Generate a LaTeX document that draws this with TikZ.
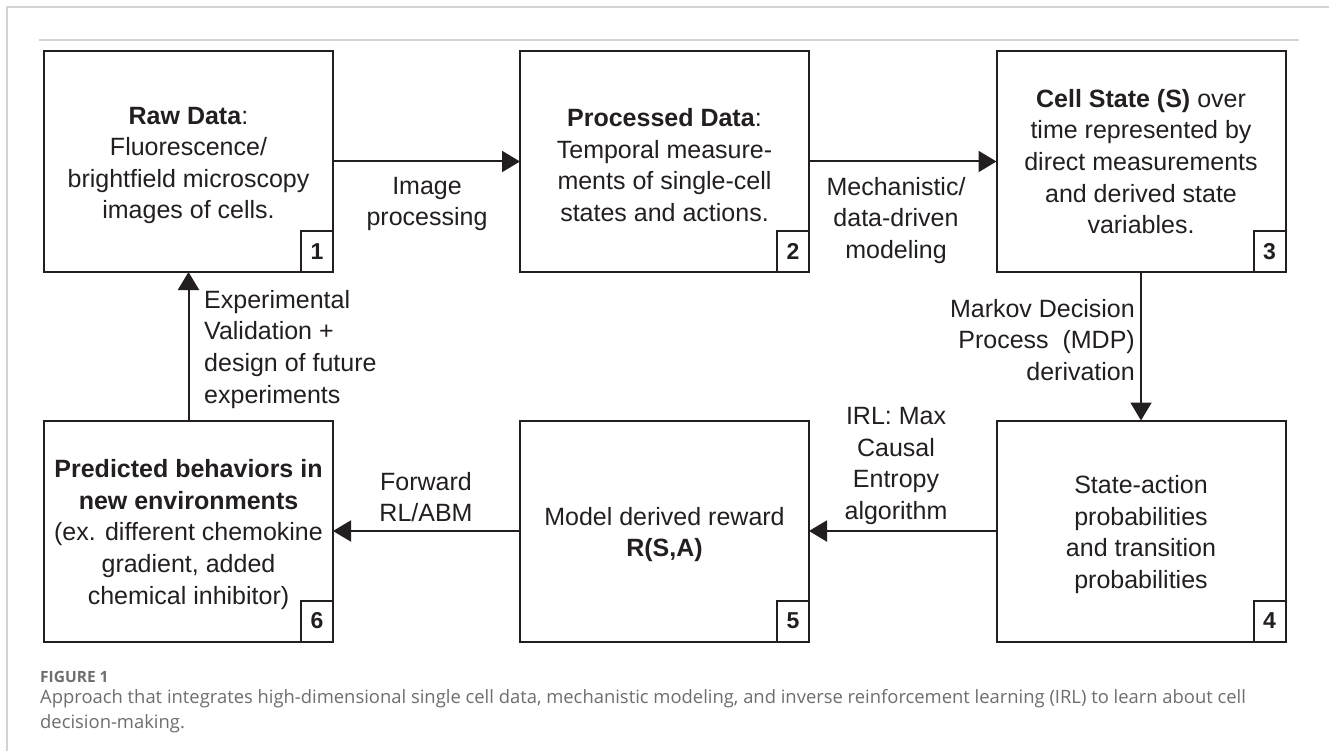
\documentclass[tikz,border=0pt]{standalone}
\usepackage{fontspec}
\setmainfont{Liberation Sans}
\newfontfamily\capfont{Open Sans}
\usetikzlibrary{arrows.meta}
\definecolor{ink}{HTML}{231F20}
\definecolor{rulegray}{HTML}{D4D4D4}
\definecolor{capgray}{HTML}{6E6E6E}
\newcommand{\topstrut}{\rule{0pt}{25pt}}
\begin{document}
\begin{tikzpicture}[x=1pt,y=-1pt,
  stage/.style={draw=ink, line width=2pt, minimum width=289pt, minimum height=221pt, inner sep=0pt, outer sep=0pt, align=center, font=\fontsize{25}{31.6}\selectfont, text=ink},
  numbox/.style={draw=ink, line width=2pt, minimum width=32pt, minimum height=41pt, inner sep=0pt, outer sep=0pt, font=\fontsize{23}{26}\selectfont\bfseries, text=ink, anchor=south east},
  lab/.style={inner sep=0pt, font=\fontsize{25}{31.6}\selectfont, text=ink},
  flow/.style={draw=ink, line width=2pt, -{Triangle[length=18pt,width=21pt]}},
  capstyle/.style={anchor=base west, inner sep=0pt, text=capgray},
]
\useasboundingbox (0,0) rectangle (1329,751);
\fill[white] (0,0) rectangle (1329,751);
% frame rules
\draw[rulegray, line width=1.5pt] (7,751) -- (7,7) -- (1329,7);
\draw[rulegray, line width=1.5pt] (39,40) -- (1299,40);

% stages
\node[stage] (b1) at (188.5,161.5) {\topstrut\textbf{Raw Data}:\\Fluorescence/\\brightfield microscopy\\images of cells.};
\node[stage] (b2) at (664.5,161.5) {\topstrut\textbf{Processed Data}:\\Temporal measure-\\ments of single-cell\\states and actions.};
\node[stage] (b3) at (1141,161.5) {\textbf{Cell State (S)} over\\time represented by\\direct measurements\\and derived state\\variables.};
\node[stage] (b4) at (1141,531) {\topstrut State-action\\probabilities\\and transition\\probabilities};
\node[stage] (b5) at (664.5,531) {\topstrut Model derived reward\\\textbf{R(S,A)}};
\node[stage] (b6) at (188.5,531) {\topstrut\textbf{Predicted behaviors in}\\\textbf{new environments}\\(ex. different chemokine\\gradient, added\\chemical inhibitor)};

% numbers
\node[numbox] (n1) at (b1.south east) {1};
\node[numbox] (n2) at (b2.south east) {2};
\node[numbox] (n3) at (b3.south east) {3};
\node[numbox] (n4) at (b4.south east) {4};
\node[numbox] (n5) at (b5.south east) {5};
\node[numbox] (n6) at (b6.south east) {6};

% connectors
\draw[flow] (b1) -- (b2);
\draw[flow] (b2) -- (b3);
\draw[flow] (b3) -- (b4);
\draw[flow] (b4) -- (b5);
\draw[flow] (b5) -- (b6);
\draw[flow] (b6) -- (b1);

% connector labels
\node[lab, align=center, anchor=north] (l12) at (427,177) {Image\\processing};
\node[lab, align=center, anchor=north] (l23) at (896,177) {Mechanistic/\\data-driven\\modeling};
\node[lab, align=right, anchor=north east] (l34) at (1135,299) {Markov Decision\\Process\ \ (MDP)\\derivation};
\node[lab, align=center, anchor=north] (l45) at (896,407) {IRL: Max\\Causal\\Entropy\\algorithm};
\node[lab, align=center, anchor=north] (l56) at (426,472) {Forward\\RL/ABM};
\node[lab, align=left, anchor=north west] (l61) at (204,290) {Experimental\\Validation +\\design of future\\experiments};

% caption
\node[capstyle, font=\capfont\fontsize{15.5}{18}\selectfont\bfseries] (fig) at (40,682) {FIGURE 1};
\node[capstyle, font=\capfont\fontsize{18.4}{25}\selectfont] (cap1) at (40,703) {Approach that integrates high-dimensional single cell data, mechanistic modeling, and inverse reinforcement learning (IRL) to learn about cell};
\node[capstyle, font=\capfont\fontsize{18.4}{25}\selectfont] (cap2) at (40,728) {decision-making.};
\end{tikzpicture}
\end{document}
